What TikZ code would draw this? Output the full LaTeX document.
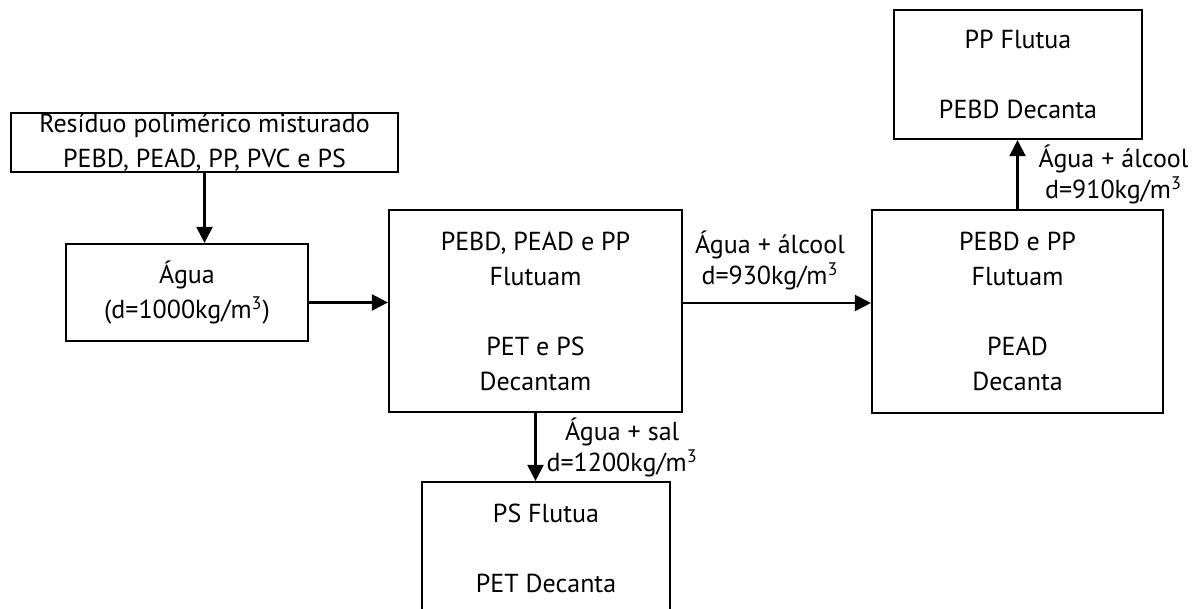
\documentclass[tikz,border=0pt]{standalone}
\usepackage{fontspec}
\setmainfont{PT Sans}
\usepackage{tikz}
\usetikzlibrary{arrows.meta,positioning}

\begin{document}
\begin{tikzpicture}[x=0.5pt, y=-0.5pt,
    box/.style={rectangle, draw=black, line width=1.1pt, fill=white, inner sep=0pt, align=center, font=\fontsize{13}{17.5}\selectfont},
    lbl/.style={inner sep=0pt, align=center, font=\fontsize{13}{15.5}\selectfont},
    flow/.style={line width=1.1pt, -{Triangle[length=8pt, width=8pt]}}
]
    \useasboundingbox (0,0) rectangle (1197,609);

    % Mixed waste and first bath
    \node[box, minimum width=193.5pt, minimum height=29.5pt] (res) at (204.5,142.5) {Resíduo polimérico misturado\\ PEBD, PEAD, PP, PVC e PS};
    \node[box, minimum width=121pt, minimum height=48.5pt] (agua) at (187,292.5) {Água\\ (d=1000kg/m\textsuperscript{3})};

    % First separation
    \node[box, minimum width=146.5pt, minimum height=101pt] (sepa) at (535.5,311) {PEBD, PEAD e PP\\ Flutuam\\[17.5pt] PET e PS\\ Decantam};
    \node[box, minimum width=124pt, minimum height=66pt] (sepps) at (546,548) {PS Flutua\\[17.5pt] PET Decanta};

    % Second and third separation
    \node[box, minimum width=145.5pt, minimum height=101.5pt] (sepb) at (1017.5,311.5) {PEBD e PP\\ Flutuam\\[17.5pt] PEAD\\ Decanta};
    \node[box, minimum width=124pt, minimum height=64.5pt] (seppp) at (1018,74.5) {PP Flutua\\[17.5pt] PEBD Decanta};

    % Flows
    \draw[flow] (res.south) -- (res.south |- agua.north);
    \draw[flow] ([yshift=-5pt]agua.east) -- ([yshift=-5pt]agua.east -| sepa.west);
    \draw[flow] ([yshift=4pt]sepa.east) -- node[lbl, above=6pt, xshift=-3.5pt] {Água + álcool\\ d=930kg/m\textsuperscript{3}} ([yshift=4pt]sepa.east -| sepb.west);
    \draw[flow] (sepa.south) -- node[lbl, right=5pt] {Água + sal\\ d=1200kg/m\textsuperscript{3}} (sepa.south |- sepps.north);
    \draw[flow] (sepb.north) -- node[lbl, right=10pt] {Água + álcool\\ d=910kg/m\textsuperscript{3}} (sepb.north |- seppp.south);
\end{tikzpicture}
\end{document}
